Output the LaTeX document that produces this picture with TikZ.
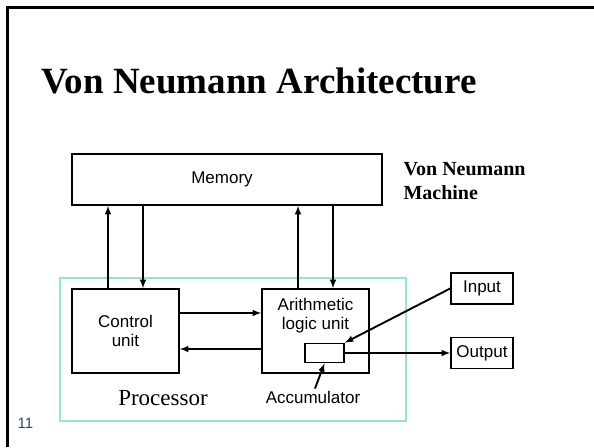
\documentclass[tikz,border=0pt]{standalone}
\usepackage{fontspec}
\setmainfont{Liberation Serif}
\setsansfont{Liberation Sans}
\usetikzlibrary{calc}
\definecolor{proccyan}{RGB}{150,228,208}
\definecolor{slideblue}{RGB}{40,70,130}
\tikzset{
  box/.style={draw, line width=1.6pt, inner sep=0pt, align=center,
              font=\sffamily\fontsize{17}{18.5}\selectfont},
  lbl/.style={font=\sffamily\fontsize{17}{19}\selectfont, align=center, inner sep=2pt},
  arr/.style={-latex, line width=1.9pt}
}
\begin{document}
\begin{tikzpicture}[x=1pt,y=-1pt]
  \useasboundingbox (0,0) rectangle (594,447);
  \draw[line width=3pt] (7,447) -- (7,7) -- (594,7);
  \node[font=\bfseries\fontsize{37}{37}\selectfont] (title) at (259,81) {Von Neumann Architecture};
  \node[font=\bfseries\fontsize{20}{24}\selectfont, anchor=west, align=left] (vnm) at (400,181) {Von Neumann\\Machine};
  % processor outline
  \draw[proccyan, line width=1.4pt] (60,278) rectangle (406,421);
  \node[font=\fontsize{23}{23}\selectfont] (proc) at (163,398) {Processor};
  \node[box, minimum width=310, minimum height=51] (mem) at (227,179.5) {Memory\hspace*{10pt}};
  \node[box, minimum width=107, minimum height=84] (ctrl) at (125.5,331) {Control\\unit};
  \node[box, minimum width=107, minimum height=84] (alu) at (315.5,331) {};
  \node[lbl, inner sep=0pt, anchor=north] (alutext) at ([yshift=-10pt]alu.north) {Arithmetic\\logic unit};
  \node[box, minimum width=39, minimum height=19] (acc) at (324.5,353) {};
  \node[lbl] (acclbl) at (313,397) {Accumulator};
  \node[box, minimum width=62, minimum height=31] (inp) at (482,288.5) {Input};
  \node[box, minimum width=62, minimum height=31] (outp) at (482,353) {Output};
  \node[font=\sffamily\fontsize{15}{15}\selectfont, text=slideblue] (pgnum) at (25.5,423) {11};
  % memory buses
  \foreach \u in {ctrl,alu} {
    \coordinate (\u up) at ([xshift=-17.5pt]\u.north);
    \coordinate (\u dn) at ([xshift=17.5pt]\u.north);
    \draw[arr] (\u up) -- (\u up |- mem.south);
    \draw[arr] (\u dn |- mem.south) -- (\u dn);
  }
  \coordinate (cr) at ([yshift=18pt]ctrl.east);
  \coordinate (cl) at ([yshift=-18pt]ctrl.east);
  \draw[arr] (cr) -- (cr -| alu.west);
  \draw[arr] (cl -| alu.west) -- (cl);
  \draw[arr] (inp.west) -- (acc.north east);
  \draw[arr] (acc.east) -- (acc.east -| outp.west);
  \draw[arr] ([xshift=2pt]acclbl.north) -- (acc.south);
\end{tikzpicture}
\end{document}
